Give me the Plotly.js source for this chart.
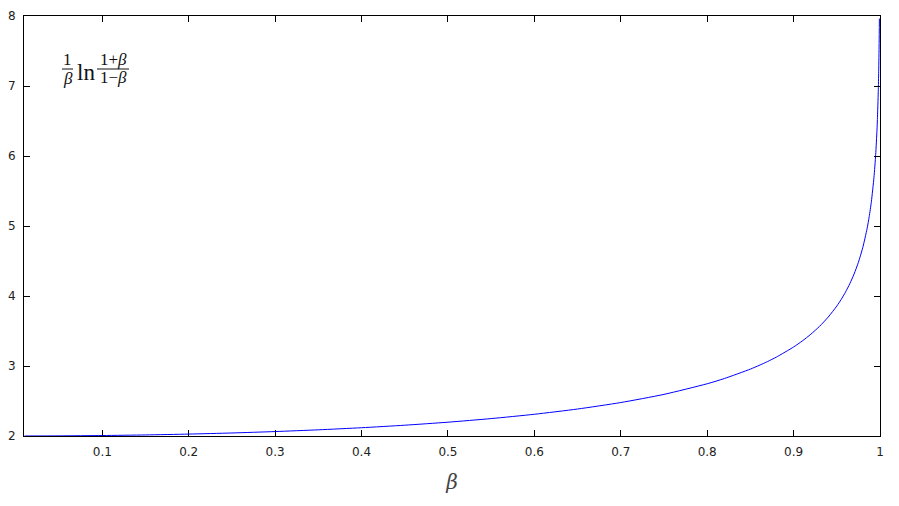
<!DOCTYPE html>
<html>
<head>
<meta charset="utf-8">
<script src="https://cdn.plot.ly/plotly-3.0.1.min.js"></script>
<style>html,body{margin:0;padding:0;background:#fff;}#chart{width:899px;height:506px;}</style>
</head>
<body>
<div id="chart"></div>
<script>
// values (beta, f(beta))
const beta = [0.01, 0.05, 0.1, 0.15, 0.2, 0.25, 0.3, 0.35, 0.4, 0.45, 0.5, 0.55, 0.6, 0.65, 0.7, 0.75, 0.8, 0.82, 0.85, 0.86, 0.87, 0.88, 0.9, 0.91, 0.92, 0.93, 0.94, 0.95, 0.955, 0.96, 0.965, 0.97, 0.975, 0.98, 0.985, 0.9875, 0.99, 0.993, 0.995, 0.9965, 0.997, 0.998, 0.9985, 0.999, 0.9993];
const fval = [2.0001, 2.0017, 2.0067, 2.0152, 2.0273, 2.0433, 2.0635, 2.0883, 2.1182, 2.1542, 2.1972, 2.2487, 2.3105, 2.3855, 2.4780, 2.5946, 2.7465, 2.8215, 2.9557, 3.0078, 3.0645, 3.1267, 3.2716, 3.3572, 3.4544, 3.5664, 3.6980, 3.8564, 3.9492, 4.0540, 4.1740, 4.3140, 4.4815, 4.6889, 4.9597, 5.1331, 5.3468, 5.6913, 6.0191, 6.3687, 6.5204, 6.9206, 7.2055, 7.6080, 7.9628];
const xTicks = [0.1, 0.2, 0.3, 0.4, 0.5, 0.6, 0.7, 0.8, 0.9, 1];
const xTickText = ['0.1', '0.2', '0.3', '0.4', '0.5', '0.6', '0.7', '0.8', '0.9', '1'];
const yTicks = [2, 3, 4, 5, 6, 7, 8];
const yTickText = ['2', '3', '4', '5', '6', '7', '8'];

const W = 899, H = 506, L = 24, R = 19, T = 16, B = 70;
const pw = W - L - R, ph = H - T - B;
const px = v => (v - L) / pw;
const py = v => (H - B - v) / ph;

const tickFont = {family: 'DejaVu Sans, sans-serif', size: 12, color: '#222'};
const mathFont = {family: 'Liberation Serif, serif', size: 17, color: '#111'};

const layout = {
  width: W, height: H,
  margin: {l: L, r: R, t: T, b: B, pad: 0},
  paper_bgcolor: '#fff', plot_bgcolor: '#fff',
  showlegend: false,
  xaxis: {
    range: [0.0094, 1], tickvals: xTicks, ticktext: xTickText,
    ticks: 'inside', ticklen: 6, tickcolor: '#000', tickwidth: 1,
    showline: true, linecolor: '#000', linewidth: 1, mirror: 'ticks',
    showgrid: false, zeroline: false, tickfont: tickFont, ticklabelstandoff: 5,
    title: {text: '<i>β</i>', font: {family: 'DejaVu Serif, serif', size: 20, color: '#444'}, standoff: 16}
  },
  yaxis: {
    range: [2, 8], tickvals: yTicks, ticktext: yTickText,
    ticks: 'inside', ticklen: 6, tickcolor: '#000', tickwidth: 1,
    showline: true, linecolor: '#000', linewidth: 1, mirror: 'ticks',
    showgrid: false, zeroline: false, tickfont: tickFont, ticklabelstandoff: 5
  },
  annotations: [
    {xref: 'paper', yref: 'paper', x: px(67.5), y: py(60), text: '1', showarrow: false, xanchor: 'center', yanchor: 'middle', font: mathFont},
    {xref: 'paper', yref: 'paper', x: px(67.5), y: py(78), text: '<i>β</i>', showarrow: false, xanchor: 'center', yanchor: 'middle', font: mathFont},
    {xref: 'paper', yref: 'paper', x: px(86), y: py(73), text: 'ln', showarrow: false, xanchor: 'center', yanchor: 'middle', font: {family: 'Liberation Serif, serif', size: 23, color: '#111'}},
    {xref: 'paper', yref: 'paper', x: px(113), y: py(60), text: '1+<i>β</i>', showarrow: false, xanchor: 'center', yanchor: 'middle', font: mathFont},
    {xref: 'paper', yref: 'paper', x: px(113), y: py(77), text: '1−<i>β</i>', showarrow: false, xanchor: 'center', yanchor: 'middle', font: mathFont}
  ],
  shapes: [
    {type: 'line', xref: 'paper', yref: 'paper', x0: px(62), x1: px(73), y0: py(69), y1: py(69), line: {color: '#111', width: 1}},
    {type: 'line', xref: 'paper', yref: 'paper', x0: px(97), x1: px(129), y0: py(69), y1: py(69), line: {color: '#111', width: 1}}
  ]
};

const data = [{
  type: 'scatter', mode: 'lines', x: beta, y: fval,
  line: {color: '#0000ff', width: 1, shape: 'spline', smoothing: 0.6},
  cliponaxis: true, hoverinfo: 'skip'
}];

Plotly.newPlot('chart', data, layout, {staticPlot: true, displayModeBar: false});
</script>
</body>
</html>
